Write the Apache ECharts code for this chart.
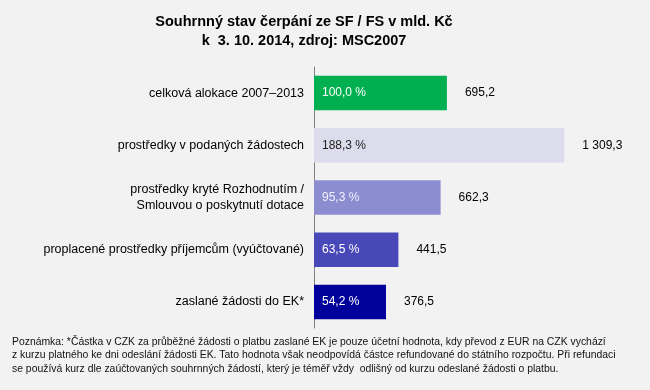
<!DOCTYPE html>
<html>
<head>
<meta charset="utf-8">
<script src="https://cdn.jsdelivr.net/npm/echarts@6/dist/echarts.min.js"></script>
<style>
html,body{margin:0;padding:0;background:#F2F2F2;}
#chart{width:650px;height:390px;}
</style>
</head>
<body>
<div id="chart"></div>
<script>
var categories = [
  "celková alokace 2007–2013",
  "prostředky v podaných žádostech",
  "prostředky kryté Rozhodnutím /\nSmlouvou o poskytnutí dotace",
  "proplacené prostředky příjemcům (vyúčtované)",
  "zaslané žádosti do EK*"
];
var amounts = [695.2, 1309.3, 662.3, 441.5, 376.5];
var percents = [100.0, 188.3, 95.3, 63.5, 54.2];
var barColors = ["#00B050", "#DCDCEC", "#8C8CD0", "#4848B8", "#00009A"];
var pctColors = ["#FFFFFF", "#222222", "#F2F2FF", "#FFFFFF", "#FFFFFF"];
var titleText = "Souhrnný stav čerpání ze SF / FS v mld. Kč\nk  3. 10. 2014, zdroj: MSC2007";
var noteText = "Poznámka: *Částka v CZK za průběžné žádosti o platbu zaslané EK je pouze účetní hodnota, kdy převod z EUR na CZK vychází\nz kurzu platného ke dni odeslání žádosti EK. Tato hodnota však neodpovídá částce refundované do státního rozpočtu. Při refundaci\nse používá kurz dle zaúčtovaných souhrnných žádostí, který je téměř vždy  odlišný od kurzu odeslané žádosti o platbu.";

var FONT = "'Liberation Sans', Arial, sans-serif";

function czNum(v) {
  var s = v.toFixed(1).split(".");
  var intPart = s[0].replace(/\B(?=(\d{3})+(?!\d))/g, " ");
  return intPart + "," + s[1];
}

var mainData = amounts.map(function (v, i) {
  return {
    value: v,
    itemStyle: { color: barColors[i] },
    label: { color: pctColors[i] }
  };
});

var chart = echarts.init(document.getElementById("chart"), null, { renderer: "canvas" });
chart.setOption({
  backgroundColor: "#F2F2F2",
  animation: false,
  title: {
    text: titleText,
    left: 299,
    top: 7,
    textAlign: "center",
    textStyle: {
      fontFamily: FONT,
      fontSize: 14.5,
      fontWeight: "bold",
      color: "#000000",
      lineHeight: 19
    }
  },
  graphic: [{
    type: "text",
    left: 12,
    top: 335,
    style: {
      text: noteText,
      fontFamily: FONT,
      fontSize: 10.4,
      lineHeight: 13.5,
      fill: "#111111"
    }
  }],
  grid: { left: 314, top: 67, height: 261, width: 325, containLabel: false },
  xAxis: {
    type: "value",
    min: 0,
    max: 1700,
    show: false,
    splitLine: { show: false }
  },
  yAxis: {
    type: "category",
    data: categories,
    inverse: true,
    axisTick: { show: false },
    axisLine: { show: true, lineStyle: { color: "#808080", width: 1 } },
    axisLabel: {
      fontFamily: FONT,
      fontSize: 12.5,
      color: "#000000",
      margin: 10,
      lineHeight: 16,
      align: "right"
    }
  },
  series: [
    {
      type: "bar",
      data: mainData,
      barCategoryGap: "34%",
      label: {
        show: true,
        position: "insideLeft",
        distance: 8,
        fontFamily: FONT,
        fontSize: 12,
        formatter: function (p) {
          return percents[p.dataIndex].toFixed(1).replace(".", ",") + " %";
        }
      }
    },
    {
      type: "bar",
      data: amounts,
      barGap: "-100%",
      barCategoryGap: "34%",
      itemStyle: { color: "rgba(0,0,0,0)" },
      silent: true,
      label: {
        show: true,
        position: "right",
        distance: 18,
        fontFamily: FONT,
        fontSize: 12,
        color: "#000000",
        formatter: function (p) { return czNum(p.value); }
      }
    }
  ]
});
</script>
</body>
</html>
